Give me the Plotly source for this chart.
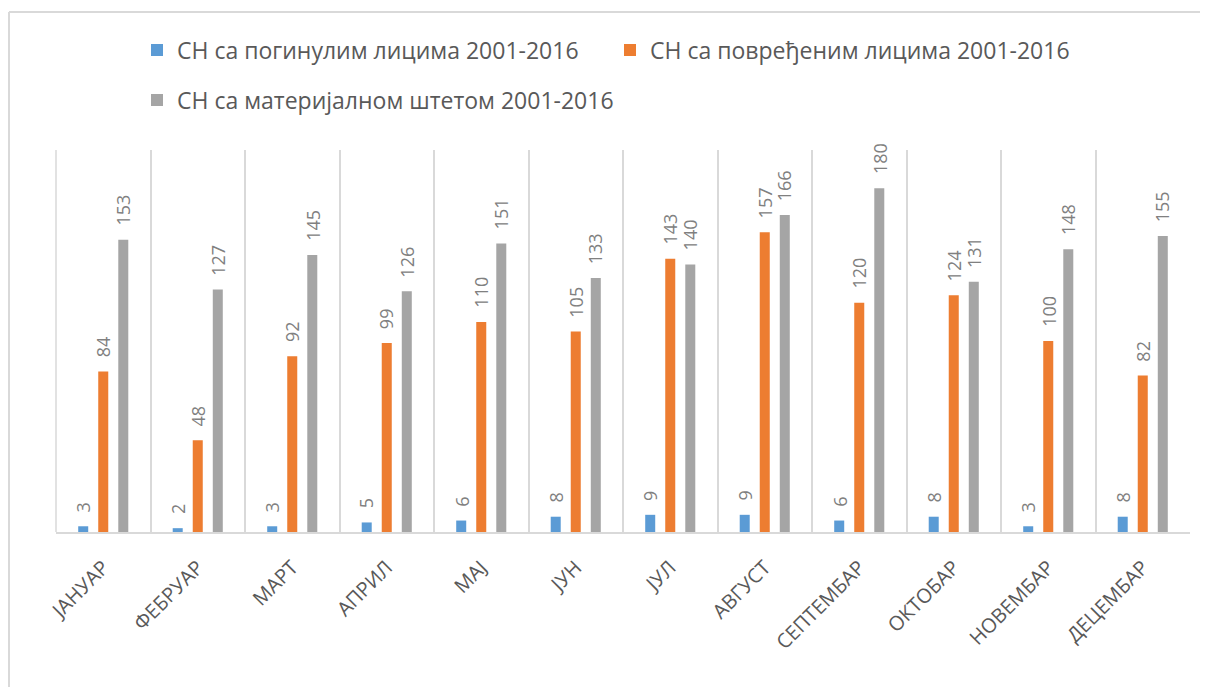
import plotly.graph_objects as go

months = ["ЈАНУАР", "ФЕБРУАР", "МАРТ", "АПРИЛ", "МАЈ", "ЈУН", "ЈУЛ",
          "АВГУСТ", "СЕПТЕМБАР", "ОКТОБАР", "НОВЕМБАР", "ДЕЦЕМБАР"]
killed = [3, 2, 3, 5, 6, 8, 9, 9, 6, 8, 3, 8]
injured = [84, 48, 92, 99, 110, 105, 143, 157, 120, 124, 100, 82]
material = [153, 127, 145, 126, 151, 133, 140, 166, 180, 131, 148, 155]

names = ["СН са погинулим лицима 2001-2016",
         "СН са повређеним лицима 2001-2016",
         "СН са материјалном штетом 2001-2016"]
colors = ["#5B9BD5", "#ED7D31", "#A5A5A5"]
series = [killed, injured, material]
legends = ["legend", "legend", "legend2"]

FONT = "Open Sans"

# page body has 8px margin; plot area in page: x 56..1190, y 150..532
ML, MR, MT, MB = 48, 26, 142, 163
PW = 1208 - ML - MR
PH = 687 - MT - MB

fig = go.Figure()
annotations = []
for i, (nm, col, vals, lg) in enumerate(zip(names, colors, series, legends)):
    fig.add_trace(go.Bar(
        x=months, y=vals, name=nm, marker_color=col, marker_line_width=0,
        legend=lg,
    ))
    for m, v in zip(months, vals):
        annotations.append(dict(
            x=m, y=v, xref="x", yref="y", text=str(v), showarrow=False,
            textangle=-90, xanchor="center", yanchor="bottom",
            xshift=(i - 1) * 20.05, yshift=12,
            font=dict(family=FONT, size=18, color="#808080"),
        ))

fx = lambda px: (px - 8 - ML) / PW
fy = lambda py: (687 - MB - (py - 8)) / PH

fig.update_layout(
    width=1208, height=687,
    margin=dict(l=ML, r=MR, t=MT, b=MB),
    paper_bgcolor="white", plot_bgcolor="white",
    barmode="group", bargap=0.364, bargroupgap=0.5,
    font=dict(family=FONT, color="#595959"),
    showlegend=True,
    legend=dict(orientation="h", x=fx(137), xanchor="left", y=fy(50), yanchor="middle",
                font=dict(family=FONT, size=23, color="#595959"),
                entrywidth=428, entrywidthmode="pixels", bgcolor="rgba(0,0,0,0)"),
    legend2=dict(orientation="h", x=fx(137), xanchor="left", y=fy(100), yanchor="middle",
                 font=dict(family=FONT, size=23, color="#595959"), bgcolor="rgba(0,0,0,0)"),
    xaxis=dict(type="category", tickson="boundaries", showgrid=True,
               gridcolor="#D9D9D9", gridwidth=1.5, ticks="", tickangle=-45,
               ticklabelstandoff=14,
               tickfont=dict(family=FONT, size=20, color="#595959"),
               showline=True, linecolor="#D9D9D9", linewidth=2),
    yaxis=dict(range=[0, 200], visible=False, showgrid=False),
    annotations=annotations,
    shapes=[
        dict(type="line", xref="paper", yref="paper", x0=0, x1=0, y0=0, y1=1,
             line=dict(color="#D9D9D9", width=1.5), layer="below"),
        dict(type="line", xref="paper", yref="paper",
             x0=fx(9), x1=fx(9), y0=fy(700), y1=fy(12),
             line=dict(color="#D9D9D9", width=2)),
        dict(type="line", xref="paper", yref="paper",
             x0=fx(9), x1=fx(1230), y0=fy(12), y1=fy(12),
             line=dict(color="#D9D9D9", width=2)),
    ],
)

fig.write_html("out.html")
